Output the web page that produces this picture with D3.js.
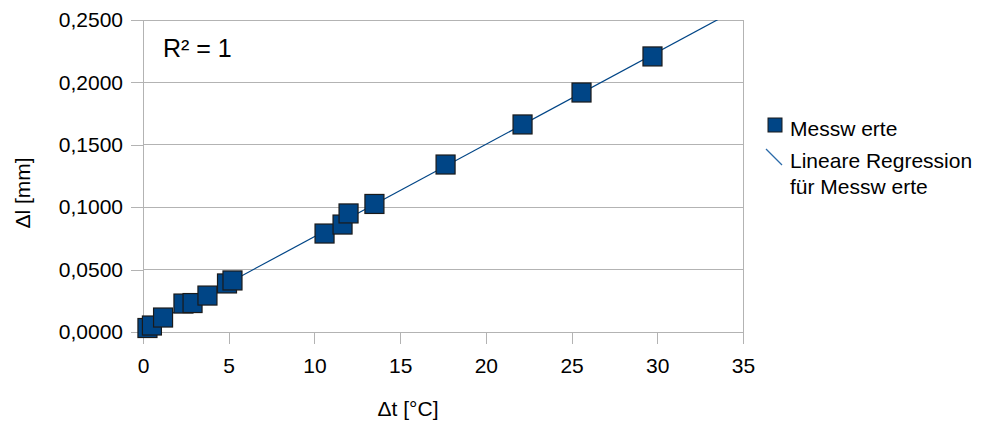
<!DOCTYPE html>
<html><head><meta charset="utf-8">
<script src="https://cdn.jsdelivr.net/npm/d3@7"></script>
<style>body{margin:0;background:#fff}svg{display:block}text{font-family:"Liberation Sans",Arial,sans-serif;fill:#000}</style>
</head><body><svg id="c" width="987" height="423"></svg>
<script>
const dt = [0.26,0.52,1.17,2.36,2.89,3.76,4.90,5.22,10.59,11.64,11.99,13.50,17.65,22.14,25.58,29.72];
const dl = [0.0032,0.0052,0.0116,0.0228,0.0232,0.0292,0.0389,0.0413,0.0789,0.0861,0.0950,0.1026,0.1342,0.1663,0.1919,0.2208];
const xTicks = [0,5,10,15,20,25,30,35];
const yTicks = [0,0.05,0.1,0.15,0.2,0.25];
const seriesName = "Messw erte";
const trendName = ["Lineare Regression","für Messw erte"];
const r2Label = "R² = 1";

const svg = d3.select("#c");
const L=143,R=743,T=20,B=332;
const x = d3.scaleLinear().domain([0,35]).range([L,R]);
const y = d3.scaleLinear().domain([0,0.25]).range([B,T]);
const loc = d3.formatLocale({decimal:",",thousands:".",grouping:[3],currency:["","€"]});
const fy = loc.format(".4f");
const FS = 21;

// grid
svg.append("g").selectAll("line").data(yTicks).join("line")
  .attr("x1",L).attr("x2",R).attr("y1",d=>y(d)).attr("y2",d=>y(d))
  .attr("stroke","#b3b3b3").attr("stroke-width",1).attr("shape-rendering","crispEdges");
svg.append("line").attr("x1",R).attr("x2",R).attr("y1",T).attr("y2",B)
  .attr("stroke","#b3b3b3").attr("shape-rendering","crispEdges");

// axes
const ya = svg.append("g").attr("transform",`translate(${L},0)`)
  .call(d3.axisLeft(y).tickValues(yTicks).tickFormat(fy).tickSize(12).tickPadding(8));
const xa = svg.append("g").attr("transform",`translate(0,${B})`)
  .call(d3.axisBottom(x).tickValues(xTicks).tickFormat(d3.format("d")).tickSize(12).tickPadding(14));
[ya,xa].forEach(a=>{
  a.select(".domain").attr("stroke","#b3b3b3").attr("shape-rendering","crispEdges");
  a.selectAll(".tick line").attr("stroke","#b3b3b3").attr("shape-rendering","crispEdges");
  a.selectAll("text").attr("font-size",FS).attr("font-family",'"Liberation Sans",Arial,sans-serif').attr("fill","#000");
});

// regression
const n = dt.length, mx=d3.mean(dt), my=d3.mean(dl);
let sxy=0,sxx=0; for(let i=0;i<n;i++){sxy+=(dt[i]-mx)*(dl[i]-my);sxx+=(dt[i]-mx)**2;}
const slope=sxy/sxx, icpt=my-slope*mx;
svg.append("clipPath").attr("id","pc").append("rect").attr("x",L).attr("y",T).attr("width",R-L).attr("height",B-T);
const x0=0, x1=35;
svg.append("line").attr("clip-path","url(#pc)")
  .attr("x1",x(x0)).attr("y1",y(icpt+slope*x0)).attr("x2",x(x1)).attr("y2",y(icpt+slope*x1))
  .attr("stroke","#004586").attr("stroke-width",1.2);

// markers
const S=19;
svg.append("g").selectAll("rect").data(dt.map((d,i)=>[d,dl[i]])).join("rect")
  .attr("x",d=>x(d[0])-S/2).attr("y",d=>y(d[1])-S/2).attr("width",S).attr("height",S)
  .attr("fill","#004586").attr("stroke","#1a1a1a").attr("stroke-width",1.2);

// R² label
svg.append("text").attr("x",163).attr("y",57).attr("font-size",25).text(r2Label);

// axis titles
svg.append("text").attr("x",408).attr("y",416).attr("text-anchor","middle").attr("font-size",FS).text("Δt [°C]");
svg.append("text").attr("transform","translate(30,193) rotate(-90)").attr("text-anchor","middle").attr("font-size",FS).text("Δl [mm]");

// legend
svg.append("rect").attr("x",768).attr("y",118).attr("width",14).attr("height",14)
  .attr("fill","#004586").attr("stroke","#1a1a1a").attr("stroke-width",1);
svg.append("text").attr("x",790).attr("y",136).attr("font-size",FS).text(seriesName);
svg.append("line").attr("x1",766).attr("y1",149).attr("x2",782).attr("y2",165).attr("stroke","#2a6aa8").attr("stroke-width",1.2);
svg.append("text").attr("x",790).attr("y",168).attr("font-size",FS).text(trendName[0]);
svg.append("text").attr("x",790).attr("y",194).attr("font-size",FS).text(trendName[1]);
</script></body></html>
